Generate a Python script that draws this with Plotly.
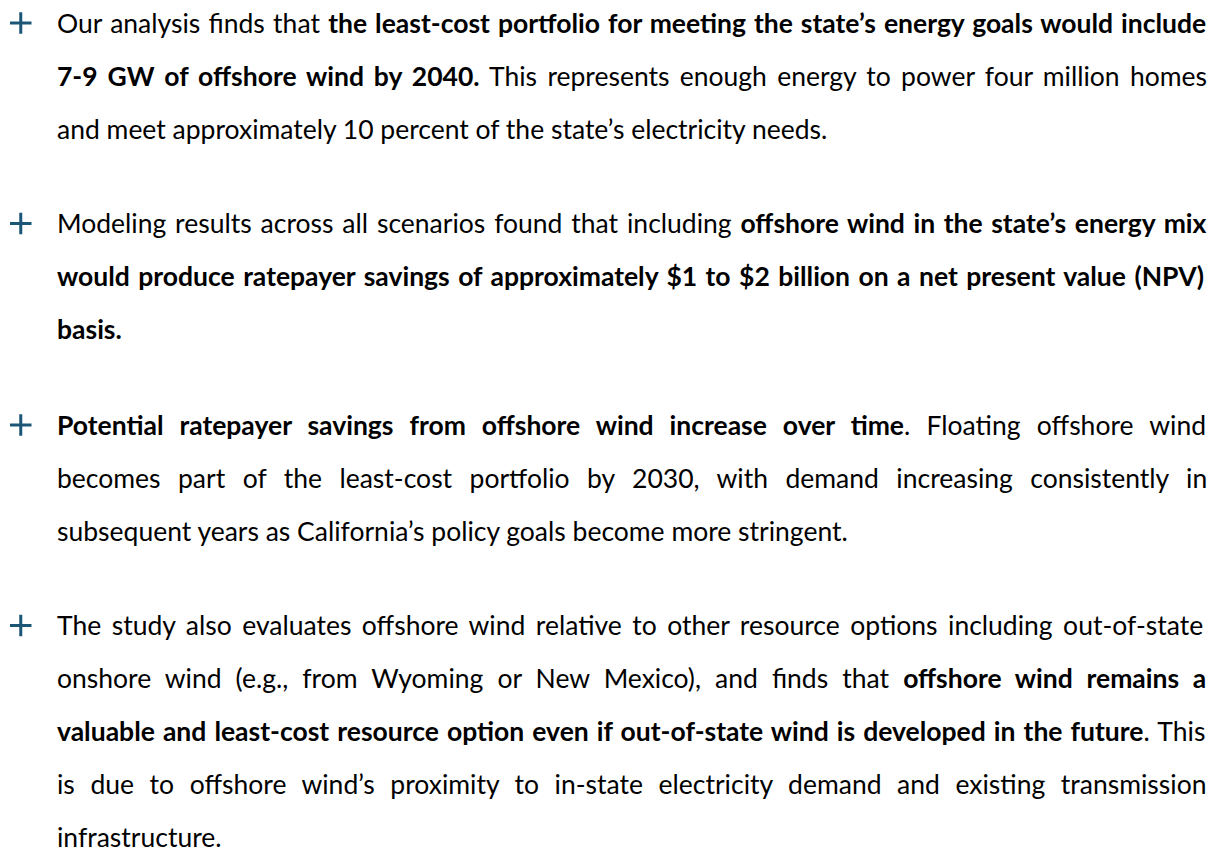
import plotly.graph_objects as go

# page body has an 8px margin, so the figure is sized to fit the window
PAGE_OFF = 8
W, H = 1218 - PAGE_OFF, 854 - PAGE_OFF

# Text content: paragraphs as lists of lines (bold spans marked with <b>)
para1 = [
    "Our analysis finds that <b>the least-cost portfolio for meeting the state’s energy goals would include</b>",
    "<b>7-9 GW of offshore wind by 2040.</b> This represents enough energy to power four million homes",
    "and meet approximately 10 percent of the state’s electricity needs.",
]
para2 = [
    "Modeling results across all scenarios found that including <b>offshore wind in the state’s energy mix</b>",
    "<b>would produce ratepayer savings of approximately $1 to $2 billion on a net present value (NPV)</b>",
    "<b>basis.</b>",
]
para3 = [
    "<b>Potential ratepayer savings from offshore wind increase over time</b>. Floating offshore wind",
    "becomes part of the least-cost portfolio by 2030, with demand increasing consistently in",
    "subsequent years as California’s policy goals become more stringent.",
]
para4 = [
    "The study also evaluates offshore wind relative to other resource options including out-of-state",
    "onshore wind (e.g., from Wyoming or New Mexico), and finds that <b>offshore wind remains a</b>",
    "<b>valuable and least-cost resource option even if out-of-state wind is developed in the future</b>. This",
    "is due to offshore wind’s proximity to in-state electricity demand and existing transmission",
    "infrastructure.",
]
paragraphs = [para1, para2, para3, para4]

# justification: extra word spacing (px) per line
word_spacing = [
    [1.5, 3.5, 0],
    [2.1, 2.0, 0],
    [9.5, 10.7, 0],
    [3.7, 7.3, 1.6, 8.8, 0],
]

# layout (window pixels)
first_baseline = [33, 233.5, 435, 635.5]
line_gap = 53.0
text_x = 55
FONT = "Lato"
FS = 26.5
ACCENT = "#1b5676"

def px(x):
    return (x - PAGE_OFF) / W

def py(y):
    return 1 - (y - PAGE_OFF) / H

fig = go.Figure()
annotations = []
shapes = []
for base, lines, wsp in zip(first_baseline, paragraphs, word_spacing):
    for i, (ln, ws) in enumerate(zip(lines, wsp)):
        txt = f"<span style='word-spacing:{ws}px'>{ln}</span>" if ws else ln
        annotations.append(dict(
            x=px(text_x + 2), y=py(base + i * line_gap - 10.2), xref="paper", yref="paper",
            xanchor="left", yanchor="middle", showarrow=False,
            borderpad=0, borderwidth=0,
            text=txt, font=dict(family=FONT, size=FS, color="#000000"),
        ))
    cy = base - 10
    shapes.append(dict(type="line", xref="paper", yref="paper",
                       x0=px(10), x1=px(31.5), y0=py(cy), y1=py(cy),
                       line=dict(color=ACCENT, width=3)))
    shapes.append(dict(type="line", xref="paper", yref="paper",
                       x0=px(20.75), x1=px(20.75), y0=py(cy - 10.75), y1=py(cy + 10.75),
                       line=dict(color=ACCENT, width=3)))

fig.update_layout(
    width=W, height=H, margin=dict(l=0, r=0, t=0, b=0),
    paper_bgcolor="white", plot_bgcolor="white",
    xaxis=dict(visible=False, range=[0, 1]), yaxis=dict(visible=False, range=[0, 1]),
    annotations=annotations, shapes=shapes, showlegend=False,
)
fig.write_html("out.html")
